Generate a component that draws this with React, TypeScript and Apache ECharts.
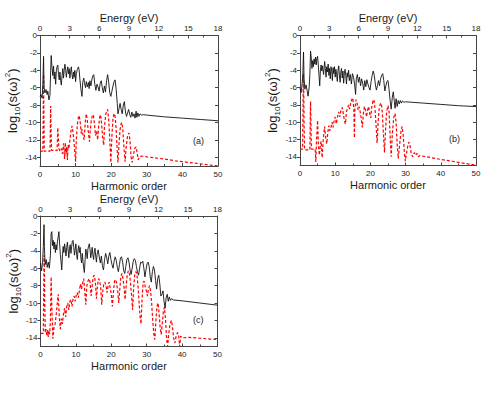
import React, { useEffect, useRef } from 'react';
import * as echarts from 'echarts';

const harmonicTicks = [0, 10, 20, 30, 40, 50];
const energyTicks = [0, 3, 6, 9, 12, 15, 18];
const logTicks = [0, -2, -4, -6, -8, -10, -12, -14];
const panelLabels = ['(a)', '(b)', '(c)'];

// Panel (a)
const aBlack = [
  [0, -7.0], [0.3, -6.8], [0.6, -7.2], [0.8, -5.5], [1.0, -2.4], [1.15, -6.0], [1.4, -6.6], [1.7, -6.2], [2.0, -6.8], [2.2, -6.4],
  [2.5, -7.4], [2.8, -6.9], [3.0, -4.0], [3.15, -2.3], [3.35, -3.6], [3.6, -4.6], [3.8, -3.5], [4.0, -5.0], [4.2, -4.2], [4.4, -5.6],
  [4.6, -4.0], [4.8, -3.6], [5.0, -3.4], [5.2, -4.5], [5.4, -5.1], [5.6, -4.2], [5.8, -5.2], [6.0, -5.7], [6.2, -4.6], [6.4, -3.8],
  [6.6, -4.9], [6.8, -4.0], [7.0, -3.3], [7.2, -3.9], [7.4, -4.8], [7.6, -4.1], [7.8, -3.6], [8.0, -4.4], [8.2, -3.8], [8.4, -4.9],
  [8.6, -4.2], [8.8, -3.6], [9.0, -4.5], [9.2, -5.0], [9.4, -4.2], [9.6, -4.8], [9.8, -4.0], [10.0, -5.3], [10.2, -4.4], [10.5, -3.9],
  [10.8, -3.6], [11.0, -4.0], [11.2, -5.0], [11.5, -6.2], [11.8, -7.0], [12.0, -5.4], [12.3, -4.9], [12.5, -5.5], [12.8, -6.0], [13.0, -5.3],
  [13.3, -5.9], [13.6, -5.4], [13.8, -6.1], [14.0, -5.2], [14.3, -5.8], [14.6, -5.0], [14.9, -4.6], [15.1, -4.5], [15.4, -5.6], [15.7, -6.3],
  [16.0, -5.6], [16.3, -5.9], [16.6, -6.4], [16.9, -5.5], [17.2, -5.2], [17.5, -6.0], [17.8, -6.6], [18.1, -5.8], [18.4, -6.5], [18.7, -5.2],
  [19.0, -4.5], [19.3, -5.4], [19.6, -6.6], [19.9, -7.0], [20.2, -6.4], [20.5, -5.8], [20.8, -5.3], [21.1, -5.1], [21.4, -6.2], [21.7, -7.8],
  [21.9, -9.0], [22.2, -8.4], [22.5, -7.8], [22.8, -8.5], [23.1, -9.0], [23.4, -8.0], [23.7, -7.6], [24.0, -8.8], [24.3, -9.3], [24.6, -8.9],
  [24.9, -8.5], [25.2, -9.1], [25.5, -9.4], [25.8, -8.8], [26.1, -9.3], [26.4, -9.0], [26.7, -9.5], [27.0, -8.7], [27.2, -9.4], [27.5, -8.9],
  [27.8, -9.3], [28.1, -9.0], [28.5, -9.15], [29, -9.1], [30, -9.15], [35, -9.35], [40, -9.5], [45, -9.65], [50, -9.8],
];
const aRed = [
  [0, -13.3], [0.8, -13.3], [0.9, -9], [1.0, -4.5], [1.1, -9], [1.2, -13.3], [2.8, -13.3], [2.9, -11], [3.0, -8.1], [3.1, -11],
  [3.25, -13.2], [4.8, -13.2], [5.0, -10.6], [5.3, -13.0], [5.6, -13.3], [6.0, -13.0], [6.3, -13.6], [6.6, -12.4], [6.9, -14.2], [7.1, -12.3],
  [7.3, -13.6], [7.5, -12.8], [7.7, -14.3], [7.9, -12.6], [8.1, -13.0], [8.4, -12.0], [8.7, -11.0], [9.0, -10.4], [9.3, -11.2], [9.6, -12.5],
  [9.8, -13.5], [10.0, -14.5], [10.2, -12.0], [10.5, -10.2], [10.8, -9.4], [11.0, -9.2], [11.3, -10.0], [11.6, -11.3], [11.8, -10.8], [12.1, -11.5],
  [12.4, -12.0], [12.7, -10.0], [13.0, -9.0], [13.3, -9.8], [13.6, -11.2], [13.9, -12.2], [14.1, -11.0], [14.4, -9.8], [14.7, -9.2], [15.0, -9.1],
  [15.3, -10.2], [15.6, -11.5], [15.9, -11.0], [16.2, -12.0], [16.5, -10.3], [16.8, -9.3], [17.0, -9.1], [17.3, -10.1], [17.6, -11.8], [17.9, -12.6],
  [18.1, -10.5], [18.5, -9.0], [18.8, -8.6], [19.0, -8.5], [19.3, -9.6], [19.6, -12.0], [19.9, -14.6], [20.2, -11.5], [20.5, -9.5], [20.8, -9.0],
  [21.0, -9.0], [21.3, -10.2], [21.6, -12.5], [21.9, -14.6], [22.2, -12.4], [22.5, -10.8], [22.8, -10.1], [23.0, -10.0], [23.3, -11.0], [23.6, -13.0],
  [23.9, -14.5], [24.2, -12.8], [24.6, -11.5], [25.0, -11.2], [25.3, -12.2], [25.6, -14.0], [25.9, -14.6], [26.2, -13.8], [26.6, -13.0], [27.0, -12.8],
  [27.3, -13.5], [27.6, -14.3], [27.9, -14.0], [28.3, -13.9], [29.0, -13.85], [30, -13.95], [32, -14.05], [35, -14.2], [38, -14.4], [40, -14.5],
  [43, -14.65], [46, -14.8], [50, -15.0],
];

// Panel (b)
const bBlack = [
  [0, -6.1], [0.3, -6.6], [0.6, -5.6], [0.8, -4.5], [1.0, -1.9], [1.15, -5.0], [1.4, -6.2], [1.7, -5.7], [2.0, -6.3], [2.3, -7.0],
  [2.6, -6.0], [2.8, -4.5], [3.0, -1.8], [3.2, -2.6], [3.4, -3.8], [3.6, -2.9], [3.8, -3.6], [4.0, -2.7], [4.2, -3.3], [4.4, -2.5],
  [4.6, -3.4], [4.8, -2.6], [5.0, -2.4], [5.2, -3.4], [5.4, -4.6], [5.6, -5.8], [5.8, -4.0], [6.0, -3.4], [6.2, -4.1], [6.4, -3.5],
  [6.7, -4.5], [7.0, -3.0], [7.2, -3.8], [7.4, -4.8], [7.6, -3.6], [7.8, -4.2], [8.0, -3.3], [8.2, -4.6], [8.4, -3.8], [8.6, -5.0],
  [8.8, -3.6], [9.0, -4.0], [9.2, -5.2], [9.4, -3.7], [9.6, -4.4], [9.8, -3.6], [10.0, -4.8], [10.2, -3.9], [10.4, -4.5], [10.6, -5.3],
  [10.8, -4.0], [11.0, -3.5], [11.2, -4.6], [11.4, -5.4], [11.6, -4.2], [11.8, -3.8], [12.0, -4.9], [12.2, -4.1], [12.4, -5.5], [12.6, -4.4],
  [12.8, -3.9], [13.0, -4.6], [13.2, -5.6], [13.4, -4.3], [13.6, -4.8], [13.8, -4.0], [14.0, -5.2], [14.3, -4.5], [14.6, -5.6], [14.9, -4.4],
  [15.2, -4.8], [15.5, -5.6], [15.8, -6.8], [16.0, -5.0], [16.3, -4.5], [16.6, -5.4], [16.9, -4.8], [17.2, -5.8], [17.5, -5.0], [17.8, -5.5],
  [18.1, -6.3], [18.4, -5.2], [18.7, -5.9], [19.0, -5.1], [19.3, -5.6], [19.6, -6.0], [19.9, -6.3], [20.2, -5.3], [20.5, -4.6], [20.8, -4.1],
  [21.1, -4.6], [21.4, -5.6], [21.7, -6.3], [22.0, -5.8], [22.3, -5.2], [22.6, -5.8], [22.9, -5.0], [23.2, -4.6], [23.5, -4.4], [23.8, -5.2],
  [24.1, -6.4], [24.4, -5.8], [24.7, -5.3], [25.0, -5.2], [25.3, -6.2], [25.6, -7.5], [25.9, -8.5], [26.2, -7.2], [26.5, -6.5], [26.8, -7.6],
  [27.0, -8.4], [27.3, -7.3], [27.6, -8.2], [27.9, -7.5], [28.2, -7.9], [28.5, -7.5], [28.8, -7.8], [29.1, -7.55], [29.5, -7.7], [30, -7.65],
  [35, -7.8], [40, -7.95], [45, -8.1], [50, -8.2],
];
const bRed = [
  [0, -13.1], [0.75, -13.1], [0.85, -8], [0.95, -4.4], [1.05, -5.5], [1.15, -10], [1.3, -13.2], [2.8, -13.2], [2.9, -10], [3.0, -7.6],
  [3.1, -10], [3.25, -13.1], [4.3, -13.1], [4.5, -14.6], [4.7, -12.0], [5.0, -9.8], [5.2, -12.5], [5.5, -13.8], [5.8, -12.6], [6.0, -12.2],
  [6.3, -14.1], [6.6, -12.0], [7.0, -10.5], [7.3, -11.8], [7.6, -12.5], [7.9, -11.2], [8.2, -10.4], [8.5, -11.0], [8.8, -10.6], [9.1, -10.0],
  [9.4, -10.6], [9.7, -9.8], [10.0, -9.4], [10.3, -10.2], [10.6, -9.5], [11.0, -8.8], [11.3, -9.4], [11.6, -8.7], [12.0, -8.3], [12.3, -9.0],
  [12.6, -9.8], [12.9, -10.2], [13.2, -8.8], [13.5, -8.4], [13.8, -8.0], [14.1, -8.5], [14.4, -7.8], [14.7, -7.4], [15.0, -7.2], [15.3, -8.5],
  [15.45, -11.8], [15.6, -8.5], [15.9, -7.4], [16.2, -7.8], [16.5, -8.6], [16.8, -8.2], [17.1, -8.8], [17.4, -9.6], [17.7, -10.6], [18.0, -9.0],
  [18.3, -8.2], [18.6, -8.6], [18.9, -9.4], [19.2, -8.6], [19.5, -8.2], [19.8, -9.0], [20.1, -9.5], [20.4, -8.2], [20.7, -7.6], [21.0, -7.4],
  [21.3, -8.4], [21.6, -10.3], [21.9, -12.4], [22.2, -10.0], [22.5, -8.4], [22.8, -7.9], [23.1, -7.8], [23.4, -9.0], [23.7, -11.4], [24.0, -13.5],
  [24.3, -11.0], [24.6, -8.8], [25.0, -8.1], [25.3, -8.8], [25.6, -11.5], [25.9, -14.0], [26.2, -11.6], [26.6, -9.5], [27.0, -9.0], [27.3, -10.0],
  [27.6, -12.5], [27.9, -14.2], [28.3, -12.6], [28.7, -11.0], [29.0, -10.5], [29.3, -11.4], [29.6, -13.2], [29.9, -14.5], [30.3, -13.5], [30.7, -12.6],
  [31.0, -12.3], [31.3, -12.8], [31.6, -13.6], [32.0, -14.0], [32.5, -13.5], [32.8, -13.8], [33.2, -13.6], [33.6, -14.0], [34, -13.85], [36, -14.0],
  [38, -14.15], [40, -14.3], [43, -14.5], [46, -14.7], [50, -14.95],
];

// Panel (c)
const cBlack = [
  [0, -5.4], [0.3, -6.3], [0.6, -5.2], [0.8, -3.5], [1.0, -1.0], [1.1, -3.5], [1.3, -5.6], [1.6, -5.0], [1.9, -5.9], [2.2, -5.3],
  [2.5, -6.0], [2.8, -4.5], [3.0, -2.0], [3.2, -1.8], [3.4, -3.4], [3.6, -2.8], [3.8, -3.8], [4.0, -3.0], [4.2, -4.2], [4.4, -3.3],
  [4.6, -3.9], [4.8, -2.9], [5.0, -2.4], [5.2, -1.8], [5.4, -3.2], [5.6, -4.4], [5.8, -5.2], [6.0, -6.2], [6.2, -4.6], [6.4, -3.5],
  [6.6, -4.2], [6.8, -3.2], [7.0, -3.8], [7.2, -4.6], [7.4, -3.6], [7.6, -3.0], [7.8, -3.9], [8.0, -4.8], [8.2, -3.7], [8.4, -3.3],
  [8.6, -4.3], [8.8, -3.5], [9.0, -2.9], [9.2, -2.8], [9.4, -3.6], [9.6, -4.5], [9.8, -3.8], [10.0, -3.2], [10.2, -4.4], [10.4, -5.0],
  [10.6, -3.9], [10.8, -3.4], [11.0, -4.2], [11.2, -3.6], [11.4, -4.8], [11.6, -5.4], [11.8, -4.3], [12.0, -5.2], [12.2, -6.0], [12.4, -6.5],
  [12.6, -5.0], [12.8, -3.8], [13.0, -4.2], [13.2, -4.9], [13.4, -3.8], [13.6, -3.4], [13.8, -3.2], [14.0, -3.9], [14.2, -4.8], [14.4, -4.2],
  [14.6, -3.6], [14.8, -4.5], [15.0, -5.0], [15.2, -4.1], [15.4, -3.7], [15.6, -4.6], [15.8, -5.3], [16.0, -4.4], [16.3, -3.9], [16.6, -4.7],
  [16.9, -5.4], [17.2, -4.6], [17.5, -5.8], [17.8, -6.2], [18.1, -5.0], [18.4, -4.3], [18.7, -4.8], [19.0, -5.5], [19.3, -4.6], [19.6, -4.2],
  [19.9, -5.0], [20.2, -5.6], [20.5, -6.0], [20.8, -5.2], [21.1, -4.7], [21.4, -5.1], [21.7, -5.9], [22.0, -6.4], [22.3, -5.6], [22.6, -4.8],
  [22.9, -4.7], [23.2, -5.3], [23.5, -6.3], [23.8, -6.6], [24.1, -5.8], [24.4, -5.0], [24.7, -4.8], [25.0, -5.3], [25.3, -6.2], [25.6, -6.7],
  [25.9, -6.0], [26.2, -5.2], [26.5, -4.9], [26.8, -5.1], [27.1, -5.8], [27.4, -6.5], [27.7, -6.8], [28.0, -6.0], [28.3, -5.3], [28.6, -5.4],
  [28.9, -5.2], [29.2, -6.0], [29.5, -7.0], [29.8, -6.2], [30.1, -5.5], [30.4, -5.3], [30.7, -5.8], [31.0, -7.0], [31.3, -7.6], [31.6, -6.4],
  [31.9, -5.8], [32.2, -6.2], [32.5, -7.4], [32.8, -8.4], [33.1, -7.2], [33.4, -6.8], [33.7, -7.8], [34.0, -9.2], [34.3, -9.0], [34.6, -8.6],
  [34.9, -9.8], [35.2, -10.6], [35.5, -9.4], [35.8, -9.0], [36.1, -9.8], [36.4, -9.3], [36.7, -9.7], [37.0, -9.5], [37.5, -9.65], [40, -9.75],
  [45, -10.0], [50, -10.25],
];
const cRed = [
  [0, -13.5], [0.8, -13.5], [0.9, -9], [1.0, -4.5], [1.1, -6], [1.2, -10], [1.35, -13.4], [1.6, -13.0], [1.8, -13.8], [2.0, -13.1],
  [2.2, -13.9], [2.4, -13.2], [2.6, -13.6], [2.8, -12.0], [3.0, -7.0], [3.2, -10.5], [3.5, -14.1], [3.8, -12.8], [4.1, -12.5], [4.4, -11.5],
  [4.7, -10.2], [5.0, -9.0], [5.3, -11.5], [5.6, -13.0], [5.9, -11.8], [6.2, -12.4], [6.5, -11.2], [6.8, -10.6], [7.1, -11.6], [7.4, -10.4],
  [7.7, -10.0], [8.0, -10.8], [8.3, -9.8], [8.6, -9.6], [8.9, -10.4], [9.2, -9.5], [9.5, -9.2], [9.8, -9.8], [10.1, -9.1], [10.4, -8.8],
  [10.7, -9.4], [11.0, -8.5], [11.3, -7.8], [11.6, -8.4], [11.9, -7.7], [12.2, -7.2], [12.5, -8.6], [12.8, -10.2], [13.1, -8.0], [13.4, -7.5],
  [13.7, -7.2], [14.0, -7.6], [14.3, -9.2], [14.6, -8.0], [14.9, -7.0], [15.2, -6.8], [15.5, -7.6], [15.8, -9.5], [16.1, -8.0], [16.4, -7.2],
  [16.7, -7.4], [17.0, -8.2], [17.3, -10.2], [17.6, -8.6], [17.9, -7.8], [18.2, -7.6], [18.5, -8.0], [18.8, -8.8], [19.1, -8.0], [19.4, -7.6],
  [19.7, -8.3], [20.0, -9.0], [20.3, -10.4], [20.6, -8.8], [20.9, -7.5], [21.2, -7.3], [21.5, -7.7], [21.8, -8.6], [22.1, -10.0], [22.4, -8.4],
  [22.7, -7.0], [23.0, -6.6], [23.3, -7.2], [23.6, -8.2], [23.9, -9.6], [24.2, -8.0], [24.5, -6.8], [24.8, -6.3], [25.1, -6.5], [25.4, -7.6],
  [25.7, -9.0], [26.0, -10.8], [26.3, -8.4], [26.6, -6.8], [26.9, -6.4], [27.2, -6.6], [27.5, -7.8], [27.8, -9.6], [28.1, -11.5], [28.4, -12.4],
  [28.7, -9.5], [29.0, -7.6], [29.3, -7.5], [29.6, -8.2], [29.9, -8.6], [30.2, -9.2], [30.5, -8.4], [30.8, -8.0], [31.1, -8.6], [31.4, -10.0],
  [31.7, -12.0], [32.0, -13.5], [32.3, -14.2], [32.6, -12.0], [32.9, -10.4], [33.2, -10.0], [33.5, -11.2], [33.8, -12.8], [34.1, -13.6], [34.4, -12.4],
  [34.7, -11.0], [35.0, -10.5], [35.3, -11.8], [35.6, -14.0], [35.9, -15.0], [36.2, -13.6], [36.6, -12.4], [37.0, -12.0], [37.3, -12.8], [37.6, -14.0],
  [38.0, -14.6], [38.3, -13.8], [38.7, -13.4], [39.0, -13.6], [39.3, -15.0], [39.6, -13.8], [40.0, -14.0], [42, -13.95], [45, -14.05], [48, -14.15],
  [50, -14.2],
];

const blackSeries = [aBlack, bBlack, cBlack];
const redSeries = [aRed, bRed, cRed];

const FONT = 'Liberation Sans, Arial, sans-serif';
const AXIS_COLOR = '#444';
const TEXT_COLOR = '#1a1a1a';

const gridBoxes = [
  { left: 40, top: 35.5, width: 178, height: 130.5 },
  { left: 300, top: 35.5, width: 176, height: 130 },
  { left: 40.5, top: 216, width: 177, height: 130.5 },
];
const labelPos = [
  [200, 142],
  [456, 140],
  [200, 321],
];

export default function App() {
  const ref = useRef<HTMLDivElement>(null);

  useEffect(() => {
    if (!ref.current) return;
    const chart = echarts.init(ref.current, undefined, { renderer: 'svg' });

    const grid: any[] = [];
    const xAxis: any[] = [];
    const yAxis: any[] = [];
    const series: any[] = [];
    const graphic: any[] = [];

    gridBoxes.forEach((g, i) => {
      grid.push({ ...g, outerBoundsMode: 'none', containLabel: false });
      const lineStyle = { color: AXIS_COLOR, width: 1 };
      xAxis.push({
        type: 'value', gridIndex: i, position: 'bottom', min: 0, max: 50, interval: 10,
        axisLine: { show: true, onZero: false, lineStyle },
        axisTick: { show: true, inside: true, length: 3, lineStyle },
        minorTick: { show: true, splitNumber: 2, length: 2, lineStyle },
        splitLine: { show: false },
        axisLabel: { fontSize: 8, color: TEXT_COLOR, margin: 4, fontFamily: FONT, customValues: harmonicTicks },
        name: 'Harmonic order', nameLocation: 'middle', nameGap: 14,
        nameTextStyle: { fontSize: 11, color: TEXT_COLOR, fontFamily: FONT },
      });
      xAxis.push({
        type: 'value', gridIndex: i, position: 'top', min: 0, max: 18, interval: 3,
        axisLine: { show: true, onZero: false, lineStyle },
        axisTick: { show: true, inside: true, length: 3, lineStyle },
        minorTick: { show: true, splitNumber: 2, length: 2, lineStyle },
        splitLine: { show: false },
        axisLabel: { fontSize: 8, color: TEXT_COLOR, margin: 3, fontFamily: FONT, customValues: energyTicks },
        name: 'Energy (eV)', nameLocation: 'middle', nameGap: 10,
        nameTextStyle: { fontSize: 11, color: TEXT_COLOR, fontFamily: FONT },
      });
      yAxis.push({
        type: 'value', gridIndex: i, position: 'left', min: -15, max: 0,
        axisLine: { show: true, onZero: false, lineStyle },
        axisTick: { show: true, inside: false, length: 3, lineStyle, customValues: logTicks },
        splitLine: { show: false },
        axisLabel: { fontSize: 8, color: TEXT_COLOR, margin: 3, fontFamily: FONT, customValues: logTicks },
        name: '{n|log}{s|10}{n|(s(ω)}{p|2}{n|)}',
        nameLocation: 'middle', nameGap: 18, nameRotate: 90,
        nameTextStyle: {
          fontFamily: FONT, color: TEXT_COLOR,
          rich: {
            n: { fontSize: 13, fontFamily: FONT, color: TEXT_COLOR, lineHeight: 18, verticalAlign: 'middle' },
            s: { fontSize: 8, fontFamily: FONT, color: TEXT_COLOR, lineHeight: 18, verticalAlign: 'bottom' },
            p: { fontSize: 8, fontFamily: FONT, color: TEXT_COLOR, lineHeight: 18, verticalAlign: 'top' },
          },
        },
      });
      yAxis.push({
        type: 'value', gridIndex: i, position: 'right', min: -15, max: 0,
        axisLine: { show: true, onZero: false, lineStyle },
        axisTick: { show: true, inside: true, length: 3, lineStyle, customValues: logTicks },
        splitLine: { show: false },
        axisLabel: { show: false },
      });

      series.push({
        type: 'line', xAxisIndex: i * 2, yAxisIndex: i * 2, data: blackSeries[i],
        showSymbol: false, symbol: 'none', clip: true,
        lineStyle: { color: '#111', width: 0.9 },
        z: 3,
      });
      series.push({
        type: 'line', xAxisIndex: i * 2, yAxisIndex: i * 2, data: redSeries[i],
        showSymbol: false, symbol: 'none', clip: true,
        lineStyle: { color: '#ff0000', width: 1.2, type: [3, 2] },
        z: 2,
      });

      graphic.push({
        type: 'text', left: labelPos[i][0] - 7, top: labelPos[i][1] - 6,
        style: { text: panelLabels[i], fontSize: 9, fontFamily: FONT, fill: TEXT_COLOR },
      });
    });

    chart.setOption({
      animation: false,
      backgroundColor: '#fff',
      grid, xAxis, yAxis, series, graphic,
    });

    return () => chart.dispose();
  }, []);

  return (
    <div
      ref={ref}
      style={{ position: 'absolute', left: 0, top: 0, width: 495, height: 395, background: '#fff' }}
    />
  );
}
